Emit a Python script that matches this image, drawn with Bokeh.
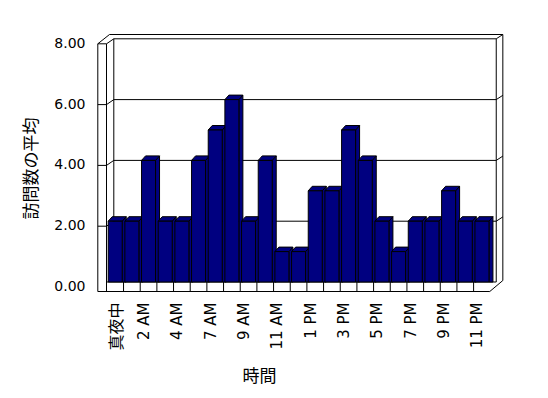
import numpy as np
from bokeh.plotting import figure
from bokeh.models import Range1d
from bokeh.core.properties import value
from bokeh.embed import file_html
from bokeh.resources import INLINE

# ---------------- data ----------------
hours = ["真夜中", "1 AM", "2 AM", "3 AM", "4 AM", "5 AM", "7 AM", "8 AM", "9 AM",
         "10 AM", "11 AM", "正午", "1 PM", "2 PM", "3 PM", "4 PM", "5 PM", "6 PM",
         "7 PM", "8 PM", "9 PM", "10 PM", "11 PM"]
visits = [2, 2, 4, 2, 2, 4, 5, 6, 2, 4, 1, 1, 3, 3, 5, 4, 2, 1, 2, 2, 3, 2, 2]
y_ticks = [0, 2, 4, 6, 8]
y_tick_labels = ["0.00", "2.00", "4.00", "6.00", "8.00"]
y_title = "訪問数の平均"
x_title = "時間"

# ---------------- scales ----------------
W, H = 532, 390
SX = 16.67      # px per category
SY = 30.4       # px per value unit
X0_PX = 114.7   # frame px of category 0
Y0_PX = 281.5   # frame px of value 0


def dx(px):
    return px / SX


def dy(px):
    return px / SY


p = figure(width=W, height=H, output_backend="svg", toolbar_location=None,
           x_range=Range1d(-X0_PX / SX, (W - X0_PX) / SX),
           y_range=Range1d((Y0_PX - H) / SY, Y0_PX / SY),
           x_axis_type=None, y_axis_type=None, min_border=0)
p.outline_line_color = None
p.grid.visible = False
p.background_fill_color = "white"
p.border_fill_color = "white"

n = len(visits)
last = n - 1
ymax = y_ticks[-1]

# 3D frame geometry
SLAB_OUT = -dx(17.4)
SLAB_IN = -dx(8.7)
BACK_L = -dx(1.4)
BACK_R = last + dx(14.3)
OUTER_R = last + dx(20.9)
FLOOR_FRONT_R = last + 0.47
FLOOR_FRONT_Y = -dy(9.5)
FRONT_DY = -dy(5)
WALL_TOP_OUT = ymax + dy(4.3)
TOP_OUT_L = -dx(5.7)
RIGHT_DIAG = dy(4.3)

xs, ys = [], []


def seg(x, y):
    xs.append(list(x))
    ys.append(list(y))


top_front = ymax + FRONT_DY
seg([SLAB_OUT, SLAB_OUT], [FLOOR_FRONT_Y, top_front])
seg([SLAB_IN, SLAB_IN], [FLOOR_FRONT_Y, top_front])
seg([SLAB_OUT, SLAB_IN], [top_front, top_front])
seg([SLAB_OUT, TOP_OUT_L], [top_front, WALL_TOP_OUT])
seg([SLAB_IN, BACK_L], [top_front, ymax])
seg([TOP_OUT_L, OUTER_R], [WALL_TOP_OUT, WALL_TOP_OUT])
seg([BACK_L, BACK_R], [ymax, ymax])
seg([BACK_L, BACK_L], [0, ymax])
seg([BACK_R, BACK_R], [0, ymax])
seg([OUTER_R, OUTER_R], [dy(1.5), WALL_TOP_OUT])
seg([BACK_R, OUTER_R], [ymax, WALL_TOP_OUT])
seg([SLAB_OUT, FLOOR_FRONT_R], [FLOOR_FRONT_Y, FLOOR_FRONT_Y])
seg([SLAB_IN, BACK_R], [0, 0])
seg([FLOOR_FRONT_R, OUTER_R], [FLOOR_FRONT_Y, dy(1.5)])
for k in range(n - 1):
    seg([k + 0.5, k + 0.5], [0, FLOOR_FRONT_Y])
for v in y_ticks[1:-1]:
    seg([SLAB_OUT, SLAB_IN, BACK_L, BACK_R, OUTER_R],
        [v + FRONT_DY, v + FRONT_DY, v, v, v + RIGHT_DIAG])

p.multi_line(xs=xs, ys=ys, line_color="black", line_width=1)

# ---------------- bars ----------------
BAR_COLOR = "#000080"
HALF = dx(7)
BDX = dx(4)
BDY = dy(4.5)
idx = np.arange(n)
vals = np.array(visits, dtype=float)
left = idx - HALF
right = idx + HALF

side_xs = [[r, r, r + BDX, r + BDX] for r in right]
side_ys = [[0, v, v + BDY, 0] for v in vals]
top_xs = [[l, l + BDX, r + BDX, r] for l, r in zip(left, right)]
top_ys = [[v, v + BDY, v + BDY, v] for v in vals]

p.patches(side_xs, side_ys, fill_color=BAR_COLOR, line_color="black", line_width=1)
p.patches(top_xs, top_ys, fill_color=BAR_COLOR, line_color="black", line_width=1)
p.quad(left=left, right=right, bottom=0, top=vals,
       fill_color=BAR_COLOR, line_color="black", line_width=1)

# ---------------- texts ----------------
p.text(x=[SLAB_OUT - dx(12.3)] * len(y_ticks), y=[v - dy(4) for v in y_ticks],
       text=y_tick_labels, text_align="right", text_baseline="middle",
       text_font=value("DejaVu Sans"), text_font_size="14px", text_color="black")

lab_idx = list(range(0, n, 2))
lat = [i for i in lab_idx if hours[i].isascii()]
cjk = [i for i in lab_idx if not hours[i].isascii()]
lab_y = FLOOR_FRONT_Y - dy(11)
p.text(x=[i - dx(4.7) for i in lat], y=[lab_y] * len(lat), text=[hours[i] for i in lat],
       angle=np.pi / 2, text_align="right", text_baseline="middle",
       text_font=value("DejaVu Sans"), text_font_size="15px", text_color="black")
p.text(x=[i for i in cjk], y=[lab_y] * len(cjk), text=[hours[i] for i in cjk],
       angle=np.pi / 2, text_align="right", text_baseline="middle",
       text_font=value("Noto Sans CJK JP"), text_font_size="16px", text_color="black")

p.text(x=[SLAB_OUT - dx(68)], y=[ymax / 2 - dy(8)], text=[y_title], angle=np.pi / 2,
       text_align="center", text_baseline="middle",
       text_font=value("Noto Sans CJK JP"), text_font_size="17px", text_color="black")
p.text(x=[(n - 1) / 2 - dx(39)], y=[FLOOR_FRONT_Y - dy(83)], text=[x_title],
       text_align="center", text_baseline="middle",
       text_font=value("Noto Sans CJK JP"), text_font_size="17px", text_color="black")

open("out.html", "w").write(file_html(p, INLINE))
